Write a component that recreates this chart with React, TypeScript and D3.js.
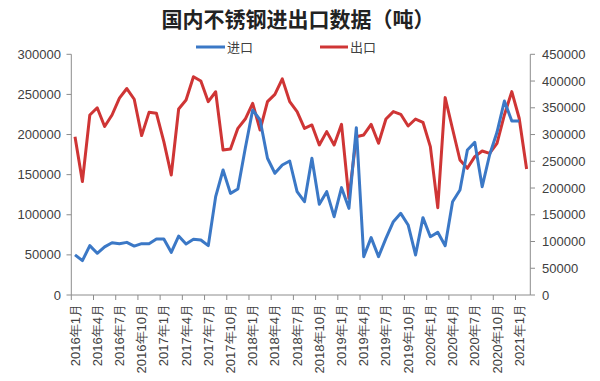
import React from "react";
import * as d3 from "d3";

const title = "国内不锈钢进出口数据（吨）";
const seriesNames = ["进口", "出口"];
const imports = [
  50000, 42800, 61500, 52000, 60000, 65200, 64000, 65600, 61000, 64000, 64000, 69800,
  69800, 53200, 73500, 63600, 69400, 68500, 61500, 122600, 155800, 126700, 132100, 182800,
  230600, 218100, 170400, 151700, 162000, 167000, 128800, 116300, 170400, 113000, 128800, 97600,
  133800, 108000, 208600, 47800, 71500, 47800, 70600, 91400, 101800, 87300, 49900, 96400,
  72700, 78100, 61500, 116300, 130900, 180700, 190300, 135000, 174500, 202800, 241800, 216900,
  216900,
];
const exports_ = [
  296000, 212000, 336500, 350000, 315000, 336500, 368000, 386000, 366000, 298000, 341500, 339700,
  286700, 224400, 347800, 364600, 408000, 400000, 361500, 380000, 271000, 273000, 311600, 329000,
  358400, 308500, 361500, 375000, 404000, 361500, 342800, 311600, 317900, 280500, 305400, 280500,
  319000, 180700, 296000, 299200, 319000, 283600, 329000, 342800, 337800, 316000, 329000, 322900,
  277400, 163300, 369000, 310400, 252400, 236900, 258700, 269300, 264900, 283600, 336600, 380200,
  330400, 235600,
];
const tickLabels = [
  "2016年1月", "2016年4月", "2016年7月", "2016年10月",
  "2017年1月", "2017年4月", "2017年7月", "2017年10月",
  "2018年1月", "2018年4月", "2018年7月", "2018年10月",
  "2019年1月", "2019年4月", "2019年7月", "2019年10月",
  "2020年1月", "2020年4月", "2020年7月", "2020年10月",
  "2021年1月",
];
const leftTicks = [0, 50000, 100000, 150000, 200000, 250000, 300000];
const rightTicks = [0, 50000, 100000, 150000, 200000, 250000, 300000, 350000, 400000, 450000];

const W = 600;
const H = 381;
const BLUE = "#3b78c6";
const RED = "#cf3535";
const AXIS = "#8c8c8c";
const TEXT = "#404040";

export default function App() {
  const nCat = exports_.length;
  const cats = d3.range(nCat);
  const x = d3.scaleBand<number>().domain(cats).range([71.3, 530.3]).padding(0);
  const cx = (i: number) => (x(i) as number) + x.bandwidth() / 2;
  const yL = d3.scaleLinear().domain([0, 300000]).range([295, 54.3]);
  const yR = d3.scaleLinear().domain([0, 450000]).range([295, 54.3]);
  const lineL = d3.line<number>().x((_, i) => cx(i)).y((d) => yL(d));
  const lineR = d3.line<number>().x((_, i) => cx(i)).y((d) => yR(d));
  const bottom = yL(0);
  const tickIdx = d3.range(0, nCat + 1, 3);
  const numFont = "'Liberation Sans', Arial, sans-serif";
  const cjkFont = "'Noto Sans CJK SC', sans-serif";

  return (
    <svg
      width={W}
      height={H}
      style={{ position: "absolute", left: 0, top: 0, background: "#fff" }}
    >
      <rect x={0} y={0} width={W} height={H} fill="#fff" />
      <text
        x={298}
        y={27}
        textAnchor="middle"
        fontFamily={cjkFont}
        fontWeight="bold"
        fontSize={21}
        fill="#222"
      >
        {title}
      </text>
      {/* legend */}
      <line x1={196} x2={225} y1={47} y2={47} stroke={BLUE} strokeWidth={3} />
      <text x={227} y={52} fontFamily={cjkFont} fontSize={13} fill={TEXT}>
        {seriesNames[0]}
      </text>
      <line x1={320} x2={348} y1={47} y2={47} stroke={RED} strokeWidth={3} />
      <text x={350} y={52} fontFamily={cjkFont} fontSize={13} fill={TEXT}>
        {seriesNames[1]}
      </text>

      {/* left axis */}
      <line x1={71.3} x2={71.3} y1={yL(300000)} y2={bottom} stroke={AXIS} strokeWidth={1} />
      {leftTicks.map((t) => (
        <g key={"l" + t}>
          <line x1={66.5} x2={71.3} y1={yL(t)} y2={yL(t)} stroke={AXIS} />
          <text
            x={61}
            y={yL(t)}
            dy="0.35em"
            textAnchor="end"
            fontFamily={numFont}
            fontSize={13}
            fill={TEXT}
          >
            {t}
          </text>
        </g>
      ))}
      {/* right axis */}
      <line x1={530.3} x2={530.3} y1={yR(450000)} y2={bottom} stroke={AXIS} strokeWidth={1} />
      {rightTicks.map((t) => (
        <g key={"r" + t}>
          <line x1={530.3} x2={535} y1={yR(t)} y2={yR(t)} stroke={AXIS} />
          <text
            x={542}
            y={yR(t)}
            dy="0.35em"
            textAnchor="start"
            fontFamily={numFont}
            fontSize={13}
            fill={TEXT}
          >
            {t}
          </text>
        </g>
      ))}
      {/* bottom axis */}
      <line x1={71.3} x2={530.3} y1={bottom} y2={bottom} stroke={AXIS} />
      {tickIdx.map((k) => {
        const xx = k < nCat ? (x(k) as number) : 530.3;
        return <line key={"t" + k} x1={xx} x2={xx} y1={bottom} y2={bottom + 5} stroke={AXIS} />;
      })}
      {tickLabels.map((lab, j) => {
        const xx = cx(j * 3);
        return (
          <text
            key={lab}
            transform={`translate(${xx},${bottom + 9}) rotate(-90)`}
            textAnchor="end"
            dy="0.35em"
            fontFamily={numFont}
            fontSize={13}
            fill={TEXT}
          >
            {lab}
          </text>
        );
      })}

      <path d={lineR(exports_) || ""} fill="none" stroke={RED} strokeWidth={3} strokeLinejoin="round" />
      <path d={lineL(imports) || ""} fill="none" stroke={BLUE} strokeWidth={3} strokeLinejoin="round" />
    </svg>
  );
}
